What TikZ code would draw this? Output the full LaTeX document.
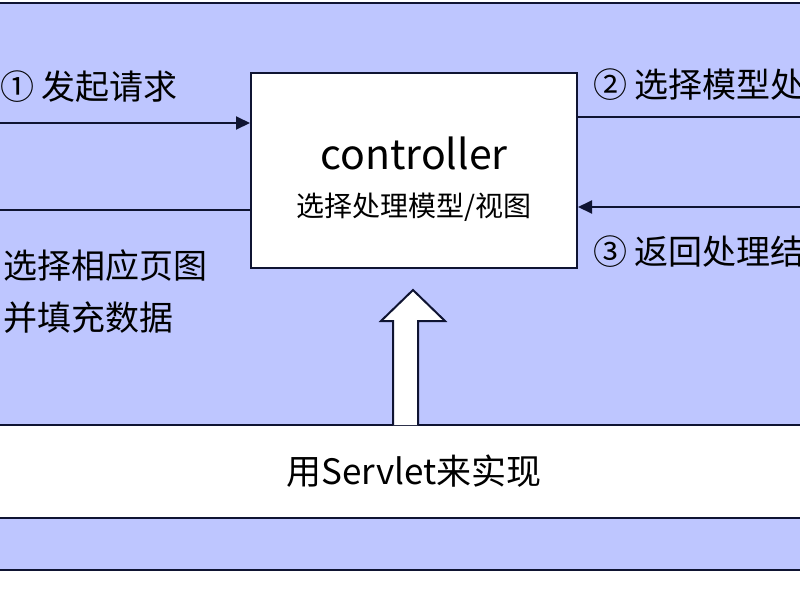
\documentclass[tikz,border=0pt]{standalone}
\usepackage{fontspec}
\setmainfont{Noto Sans CJK SC}
\usetikzlibrary{arrows.meta}
\definecolor{bgblue}{RGB}{190,198,255}
\definecolor{ln}{RGB}{15,20,50}
\tikzset{lbl/.style={anchor=west,inner sep=0pt,font=\fontsize{34}{40}\selectfont},
 arr/.style={draw=ln,line width=2pt,-{Triangle[length=14pt,width=13pt]}},
 ln/.style={draw=ln,line width=2pt}}
\begin{document}
\begin{tikzpicture}[x=1pt,y=-1pt]
\useasboundingbox (0,0) rectangle (800,600);
\clip (0,0) rectangle (800,600);
\fill[white] (0,0) rectangle (800,600);
\fill[bgblue] (-5,3) rectangle (805,425);
\fill[bgblue] (-5,518) rectangle (805,570);
\draw[ln] (-5,3) -- (805,3);
\draw[ln] (-5,425) -- (805,425);
\draw[ln] (-5,518) -- (805,518);
\draw[ln] (-5,570) -- (805,570);
\node[draw=ln,line width=2pt,fill=white,minimum width=326pt,minimum height=195pt,inner sep=0pt] (box) at (414,170.5) {};
\node[inner sep=0pt,font=\fontsize{41}{46}\selectfont] (ctl) at (414,153) {controller};
\node[inner sep=0pt,font=\fontsize{28}{32}\selectfont] (sub) at (414,207) {选择处理模型/视图};
\coordinate (l1) at (-5,123);
\coordinate (l2) at (-5,210);
\coordinate (r1) at (805,117);
\coordinate (r2) at (805,207);
\draw[arr] (l1) -- (l1 -| box.west);
\draw[ln] (l2 -| box.west) -- (l2);
\draw[ln] (r1 -| box.east) -- (r1);
\draw[arr] (r2) -- (r2 -| box.east);
\node[lbl] (t1) at (0,87) {① 发起请求};
\node[lbl] (t2) at (3,266) {选择相应页图};
\node[lbl] (t3) at (3,318) {并填充数据};
\node[lbl] (t4) at (593,85) {② 选择模型处理};
\node[lbl] (t5) at (593,252) {③ 返回处理结果};
\node[inner sep=0pt,font=\fontsize{35}{40}\selectfont] (srv) at (414,471) {用Servlet来实现};
\draw[ln,fill=white,line join=miter] (393,425) -- (393,321) -- (381,321) -- (413,290) -- (445,321) -- (418,321) -- (418,425);
\end{tikzpicture}
\end{document}
